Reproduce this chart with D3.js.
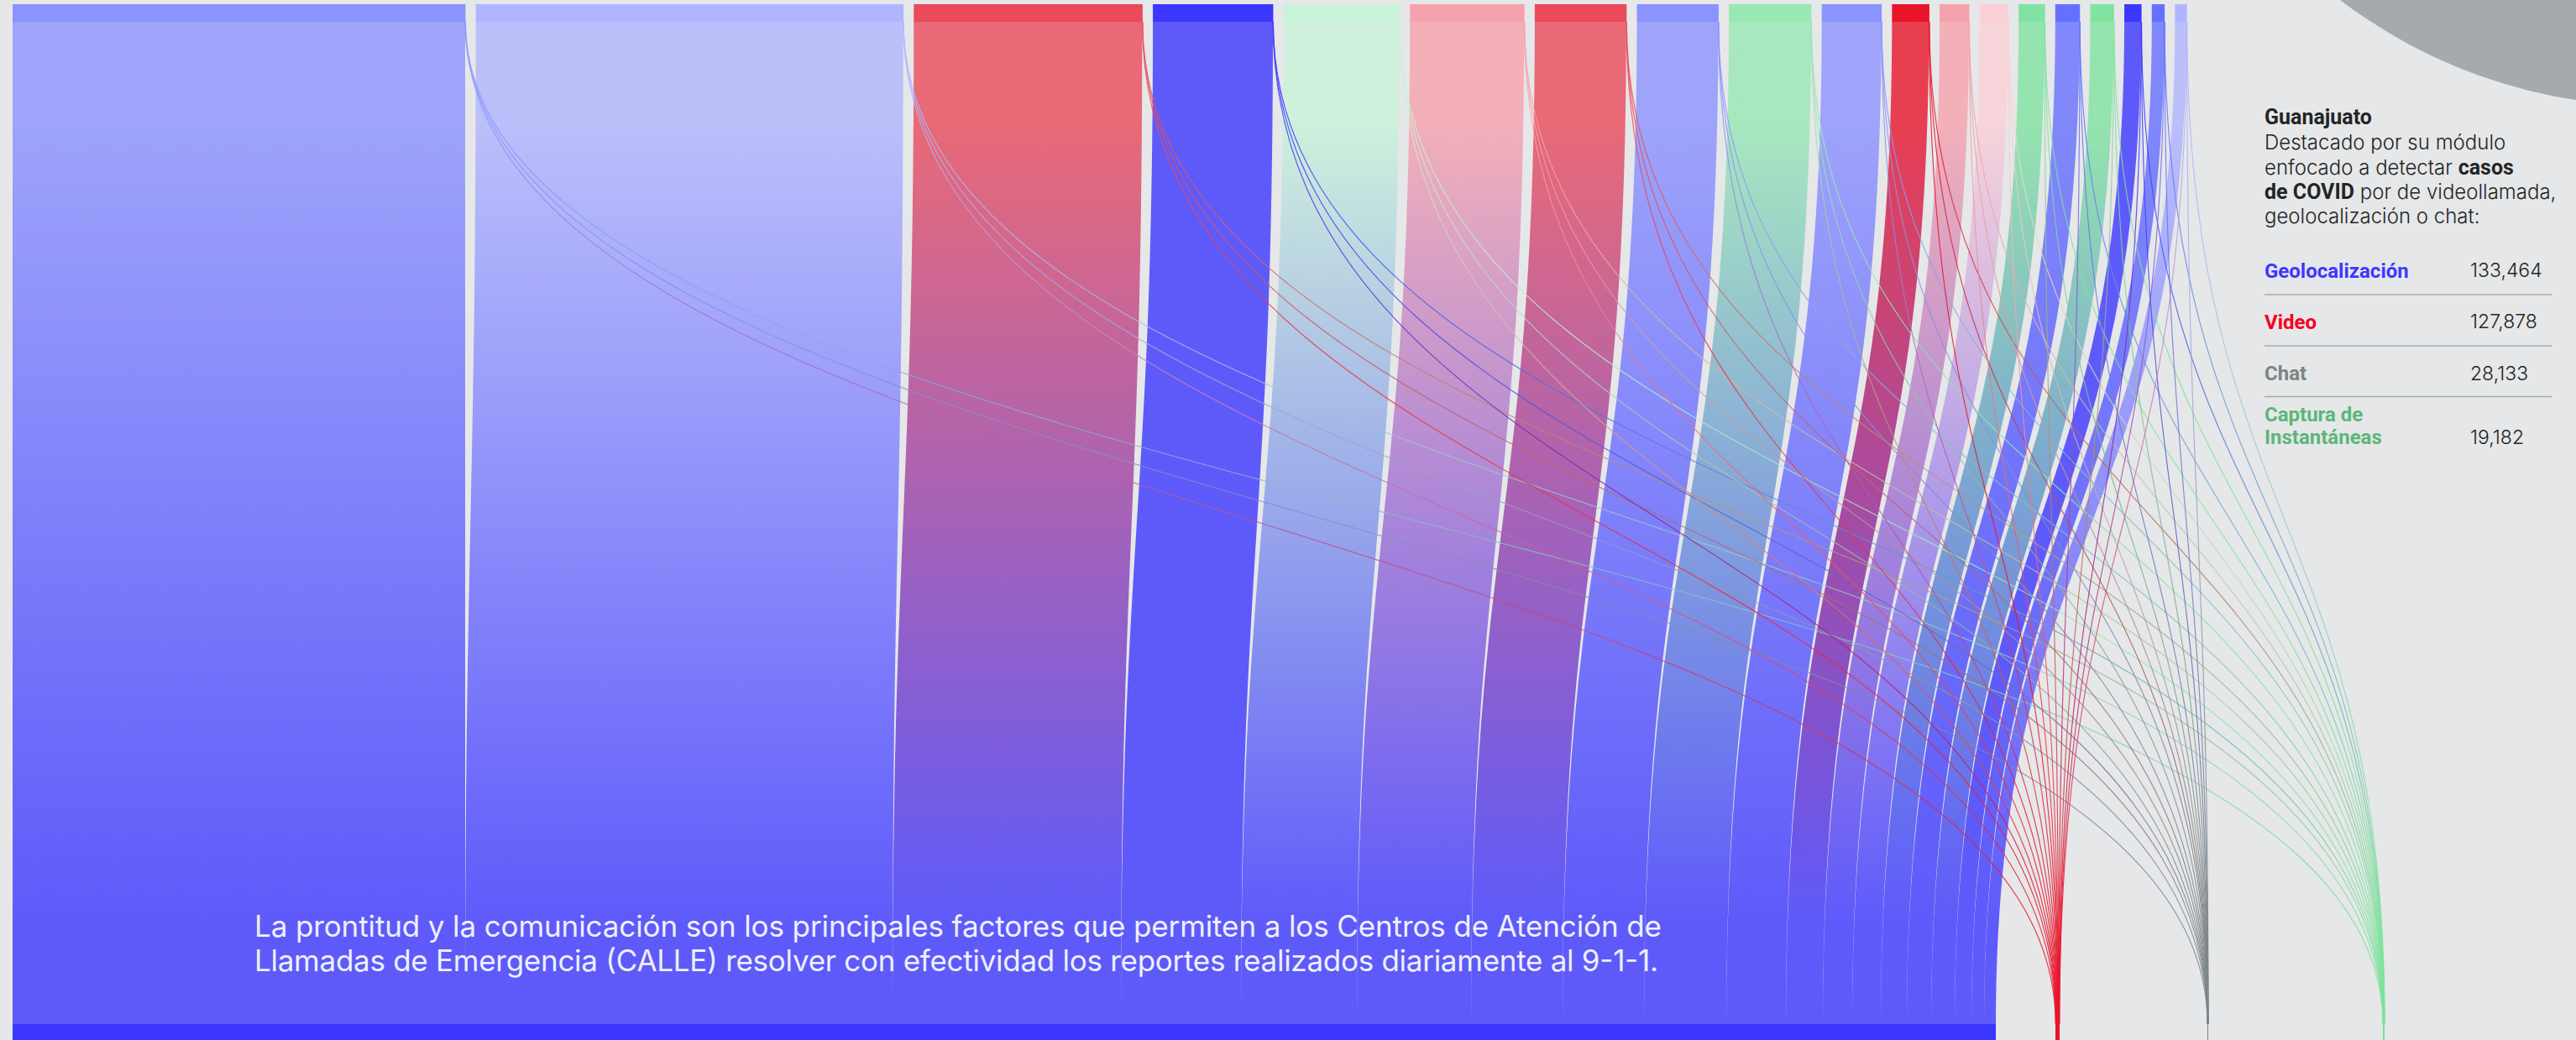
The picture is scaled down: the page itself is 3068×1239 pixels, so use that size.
<!DOCTYPE html>
<html>
<head>
<meta charset="utf-8">
<script src="https://cdn.jsdelivr.net/npm/d3@7"></script>
<style>
  html, body { margin: 0; padding: 0; background: #e6e7e8; overflow: hidden; }
  text { font-family: "Inter", sans-serif; }
  .bold { font-family: "Roboto", sans-serif; font-weight: 700; }
</style>
</head>
<body>
<div id="chart"></div>
<script>
// reports per state, read off the band widths (no state labels in the picture)
let geolocalizacion = [539, 509, 272, 143, 138, 136, 109, 97, 98, 71, 44, 35, 34, 31, 29, 28, 20, 15, 14];
let video = [0.3, 0.3, 0.4, 0.2, 0.2, 0.3, 0.3, 0.2, 0.2, 0.3, 0.4, 0.2, 0.2, 0.2, 0.3, 0.2, 0.4, 0.2, 0.2];
let chat = [0.06, 0.06, 0.05, 0.05, 0.05, 0.06, 0.05, 0.05, 0.05, 0.05, 0.06, 0.05, 0.05, 0.05, 0.05, 0.05, 0.05, 0.05, 0.05];
let captura = [0.1, 0.1, 0.1, 0.1, 0.15, 0.1, 0.1, 0.1, 0.15, 0.1, 0.1, 0.1, 0.1, 0.15, 0.1, 0.15, 0.1, 0.1, 0.1];

let sourceColors = ["#8b93ff", "#b0b5ff", "#ea4a5a", "#3c37ff", "#c9f3d9", "#f6a2ad", "#ea4a5a", "#8b93ff", "#98e8b4", "#8b93ff",
  "#e8142a", "#f6a2ad", "#fbd0d6", "#80e3a0", "#6670ff", "#80e3a0", "#3c37ff", "#6670ff", "#b0b5ff"];

let targetNames = ["Geolocalización", "Video", "Chat", "Captura"];
let targetColors = ["#3c37ff", "#e8142a", "#7c8487", "#7de29b"];
let targetStart = [15, 2448, 2629, 2838];

let sideNames = [["Geolocalización"], ["Video"], ["Chat"], ["Captura de", "Instantáneas"]];
let sideValues = ["133,464", "127,878", "28,133", "19,182"];
let sideColors = ["#3c37ff", "#f5001e", "#7c8487", "#5cb67b"];

let captionLines = [
  "La prontitud y la comunicación son los principales factores que permiten a los Centros de Atención de",
  "Llamadas de Emergencia (CALLE) resolver con efectividad los reportes realizados diariamente al 9-1-1."
];

let width = 3068, height = 1239;
let nodeTop = 5, linkTop = 26, linkBottom = 1220, nodePad = 12.2, left = 15;

let svg = d3.select("#chart").append("svg")
  .attr("width", width)
  .attr("height", height)
  .style("display", "block");

svg.append("rect").attr("width", width).attr("height", height).attr("fill", "#e6e7e8");

// grey arc top right
svg.append("circle")
  .attr("cx", 3160).attr("cy", -489).attr("r", 615)
  .attr("fill", "#a5aaad");

let series = [geolocalizacion, video, chat, captura];
let x = d3.scaleLinear().domain([0, d3.sum(geolocalizacion)]).range([0, 2362]);

// walk the sources left to right, and stack each target as links arrive
let links = [];
let sources = [];
let cursor = left;
let targetCursor = targetStart.slice();
geolocalizacion.forEach(function (g, i) {
  let sx = cursor;
  series.forEach(function (s, t) {
    let w = x(s[i]);
    links.push({
      id: links.length, source: i, target: t, w: w,
      sx: sx + w / 2,
      tx: targetCursor[t] + w / 2
    });
    sx += w;
    targetCursor[t] += w;
  });
  sources.push({ x0: cursor, x1: sx });
  cursor = sx + nodePad;
});

let defs = svg.append("defs");
let gradient = defs.selectAll("linearGradient")
  .data(links)
  .enter().append("linearGradient")
  .attr("id", d => "link" + d.id)
  .attr("gradientUnits", "userSpaceOnUse")
  .attr("x1", 0).attr("x2", 0)
  .attr("y1", linkTop).attr("y2", linkBottom);
gradient.append("stop").attr("offset", "10%").attr("stop-color", d => sourceColors[d.source]);
gradient.append("stop").attr("offset", "90%").attr("stop-color", d => targetColors[d.target]);

let linkPath = d3.linkVertical()
  .source(d => [d.sx, linkTop])
  .target(d => [d.tx, linkBottom]);

// big bands first, the thin lines run on top of them
svg.append("g")
  .attr("fill", "none")
  .selectAll("path")
  .data(links.slice().sort((a, b) => d3.ascending(a.target > 0, b.target > 0)))
  .enter().append("path")
  .attr("d", linkPath)
  .attr("stroke", d => "url(#link" + d.id + ")")
  .attr("stroke-opacity", d => d.target == 0 ? 0.8 : 0.85)
  .attr("stroke-width", d => Math.max(1.15, d.w));

svg.append("g").selectAll("rect")
  .data(sources)
  .enter().append("rect")
  .attr("x", d => d.x0)
  .attr("y", nodeTop)
  .attr("width", d => d.x1 - d.x0)
  .attr("height", linkTop - nodeTop)
  .attr("fill", (d, i) => sourceColors[i]);

svg.append("g").selectAll("rect")
  .data(targetStart)
  .enter().append("rect")
  .attr("x", d => d)
  .attr("y", linkBottom)
  .attr("width", (d, i) => Math.max(1, targetCursor[i] - d))
  .attr("height", height - linkBottom)
  .attr("fill", (d, i) => targetColors[i]);

// caption over the bands
svg.append("g").selectAll("text")
  .data(captionLines)
  .enter().append("text")
  .attr("x", 303)
  .attr("y", (d, i) => 1116 + i * 41)
  .attr("font-size", 35)
  .attr("font-weight", 400)
  .attr("fill", "#eef0fb")
  .attr("textLength", (d, i) => i == 0 ? 1676 : 1672)
  .attr("lengthAdjust", "spacing")
  .text(d => d);

// side panel
let panelX = 2697;
let intro = svg.append("g").attr("fill", "#222526").attr("font-size", 24).attr("font-weight", 350);
intro.append("text").attr("class", "bold").attr("x", panelX).attr("y", 148).attr("font-size", 25).text("Guanajuato");
intro.append("text").attr("x", panelX).attr("y", 178).text("Destacado por su módulo");
let l3 = intro.append("text").attr("x", panelX).attr("y", 207.5);
l3.append("tspan").text("enfocado a detectar ");
l3.append("tspan").attr("class", "bold").attr("font-size", 25).text("casos");
let l4 = intro.append("text").attr("x", panelX).attr("y", 237);
l4.append("tspan").attr("class", "bold").attr("font-size", 25).text("de COVID");
l4.append("tspan").text(" por de videollamada,");
intro.append("text").attr("x", panelX).attr("y", 266).text("geolocalización o chat:");

let rowBase = [331, 392, 453, 502];
let numBase = [330, 391, 453, 529];
let ruleY = [351, 412, 472.5];

svg.append("g").selectAll("line")
  .data(ruleY)
  .enter().append("line")
  .attr("x1", panelX).attr("x2", 3039)
  .attr("y1", d => d).attr("y2", d => d)
  .attr("stroke", "#a5aaad").attr("stroke-width", 1.5);

let rows = svg.append("g").selectAll("g")
  .data(sideNames)
  .enter().append("g");
rows.each(function (lines, i) {
  d3.select(this).selectAll("text.name")
    .data(lines)
    .enter().append("text")
    .attr("class", "bold name")
    .attr("x", panelX)
    .attr("y", (d, j) => rowBase[i] + j * 26.5)
    .attr("font-size", 24)
    .attr("fill", sideColors[i])
    .text(d => d);
});
rows.append("text")
  .attr("x", 2942)
  .attr("y", (d, i) => numBase[i])
  .attr("font-size", 23)
  .attr("font-weight", 350)
  .attr("fill", "#222526")
  .text((d, i) => sideValues[i]);
</script>
</body>
</html>
